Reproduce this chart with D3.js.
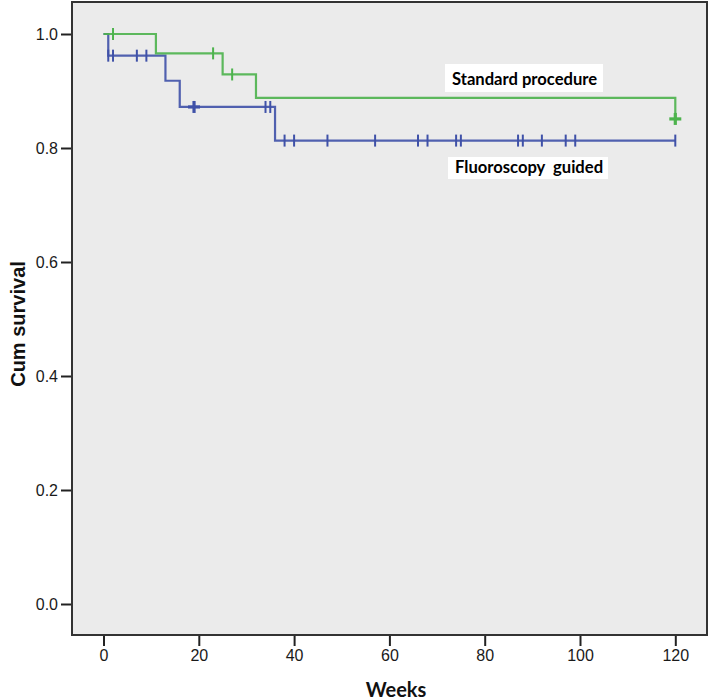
<!DOCTYPE html>
<html>
<head>
<meta charset="utf-8">
<script src="https://cdn.jsdelivr.net/npm/d3@7"></script>
<style>
  html, body { margin: 0; padding: 0; background: #ffffff; }
  svg { display: block; }
</style>
</head>
<body>
<script>
// ---- data ----
const xTicks = [0, 20, 40, 60, 80, 100, 120];
const yTicks = [0.0, 0.2, 0.4, 0.6, 0.8, 1.0];

// Standard procedure (green): survival steps (time, survival after)
const stdTimes    = [0, 11, 25, 32, 120];
const stdSurv     = [1.0, 0.966, 0.929, 0.888, 0.851];
const stdCensorT  = [2, 23, 27, 120];
const stdCensorS  = [1.0, 0.966, 0.929, 0.851];
const stdCensorN  = [1, 1, 1, 2];

// Fluoroscopy guided (blue)
const fluTimes    = [0, 1, 13, 16, 36, 120];
const fluSurv     = [1.0, 0.962, 0.918, 0.872, 0.813, 0.813];
const fluCensorT  = [1, 2, 7, 9, 19, 34, 35, 38, 40, 47, 57, 66, 68, 74, 75, 87, 88, 92, 97, 99, 120];
const fluCensorS  = [0.962, 0.962, 0.962, 0.962, 0.872, 0.872, 0.872, 0.813, 0.813, 0.813, 0.813, 0.813, 0.813, 0.813, 0.813, 0.813, 0.813, 0.813, 0.813, 0.813, 0.813];
const fluCensorN  = [1, 1, 1, 1, 2, 1, 1, 1, 1, 1, 1, 1, 1, 1, 1, 1, 1, 1, 1, 1, 1];

const seriesLabels = ["Standard procedure", "Fluoroscopy  guided"];

// ---- layout ----
const W = 709, H = 700;
const frame = { left: 72, top: 2, right: 707, bottom: 635 };
const green = "#4db34d", blue = "#3f51a8";

const svg = d3.select("body").append("svg").attr("width", W).attr("height", H);

const x = d3.scaleLinear().domain([0, 120]).range([103.5, 675.3]);
const y = d3.scaleLinear().domain([0, 1]).range([604, 34]);

// plot background + frame
svg.append("rect")
  .attr("x", frame.left).attr("y", frame.top)
  .attr("width", frame.right - frame.left).attr("height", frame.bottom - frame.top)
  .attr("fill", "#ebebeb").attr("stroke", "#333").attr("stroke-width", 2);

// axes
const yAxis = svg.append("g").attr("transform", `translate(${frame.left - 1},0)`)
  .call(d3.axisLeft(y).tickValues(yTicks).tickFormat(d3.format(".1f")).tickSize(10).tickPadding(3));
const xAxis = svg.append("g").attr("transform", `translate(0,${frame.bottom + 1})`)
  .call(d3.axisBottom(x).tickValues(xTicks).tickSize(10).tickPadding(4));
[yAxis, xAxis].forEach(a => {
  a.select(".domain").remove();
  a.selectAll(".tick line").attr("stroke", "#222").attr("stroke-width", 2);
  a.selectAll(".tick text").attr("fill", "#1a1a1a")
    .style("font-family", "'Liberation Sans', Arial, sans-serif").style("font-size", "16px");
});

// curves
const line = d3.line().x(d => x(d[0])).y(d => y(d[1])).curve(d3.curveStepAfter);
function drawSeries(times, surv, cT, cS, cN, color) {
  const pts = times.map((t, i) => [t, surv[i]]);
  svg.append("path").attr("d", line(pts)).attr("fill", "none")
    .attr("stroke", color).attr("stroke-width", 2.2).attr("stroke-opacity", 0.9);
  const g = svg.append("g");
  cT.forEach((t, i) => {
    const cx = x(t), cy = y(cS[i]);
    const bold = cN[i] > 1;
    g.append("line").attr("x1", cx).attr("x2", cx).attr("y1", cy - 6).attr("y2", cy + 6)
      .attr("stroke", color).attr("stroke-width", bold ? 3.2 : 2);
    if (bold) {
      g.append("line").attr("x1", cx - 6).attr("x2", cx + 6).attr("y1", cy).attr("y2", cy)
        .attr("stroke", color).attr("stroke-width", 3.2);
    }
  });
}
drawSeries(fluTimes, fluSurv, fluCensorT, fluCensorS, fluCensorN, blue);
drawSeries(stdTimes, stdSurv, stdCensorT, stdCensorS, stdCensorN, green);

// labels with white boxes
function label(text, bx, by, bw, bh, tx, ty) {
  svg.append("rect").attr("x", bx).attr("y", by).attr("width", bw).attr("height", bh).attr("fill", "#fff");
  svg.append("text").attr("x", tx).attr("y", ty).text(text)
    .attr("fill", "#000").style("white-space", "pre")
    .style("font-family", "Lato, 'Open Sans', sans-serif").style("font-weight", "bold").style("font-size", "16.6px");
}
label(seriesLabels[0], 445, 64, 158, 28, 452, 85);
label(seriesLabels[1], 448, 157, 160, 22, 455, 173);

// axis titles
svg.append("text").attr("x", 396).attr("y", 697).attr("text-anchor", "middle").text("Weeks")
  .style("font-family", "Lato, 'Open Sans', sans-serif").style("font-weight", "bold").style("font-size", "20px").attr("fill", "#111");
svg.append("text").attr("transform", "translate(25,324) rotate(-90)").attr("text-anchor", "middle").text("Cum survival")
  .style("font-family", "'Liberation Sans', Arial, sans-serif").style("font-weight", "bold").style("font-size", "20px").attr("fill", "#111");
</script>
</body>
</html>
